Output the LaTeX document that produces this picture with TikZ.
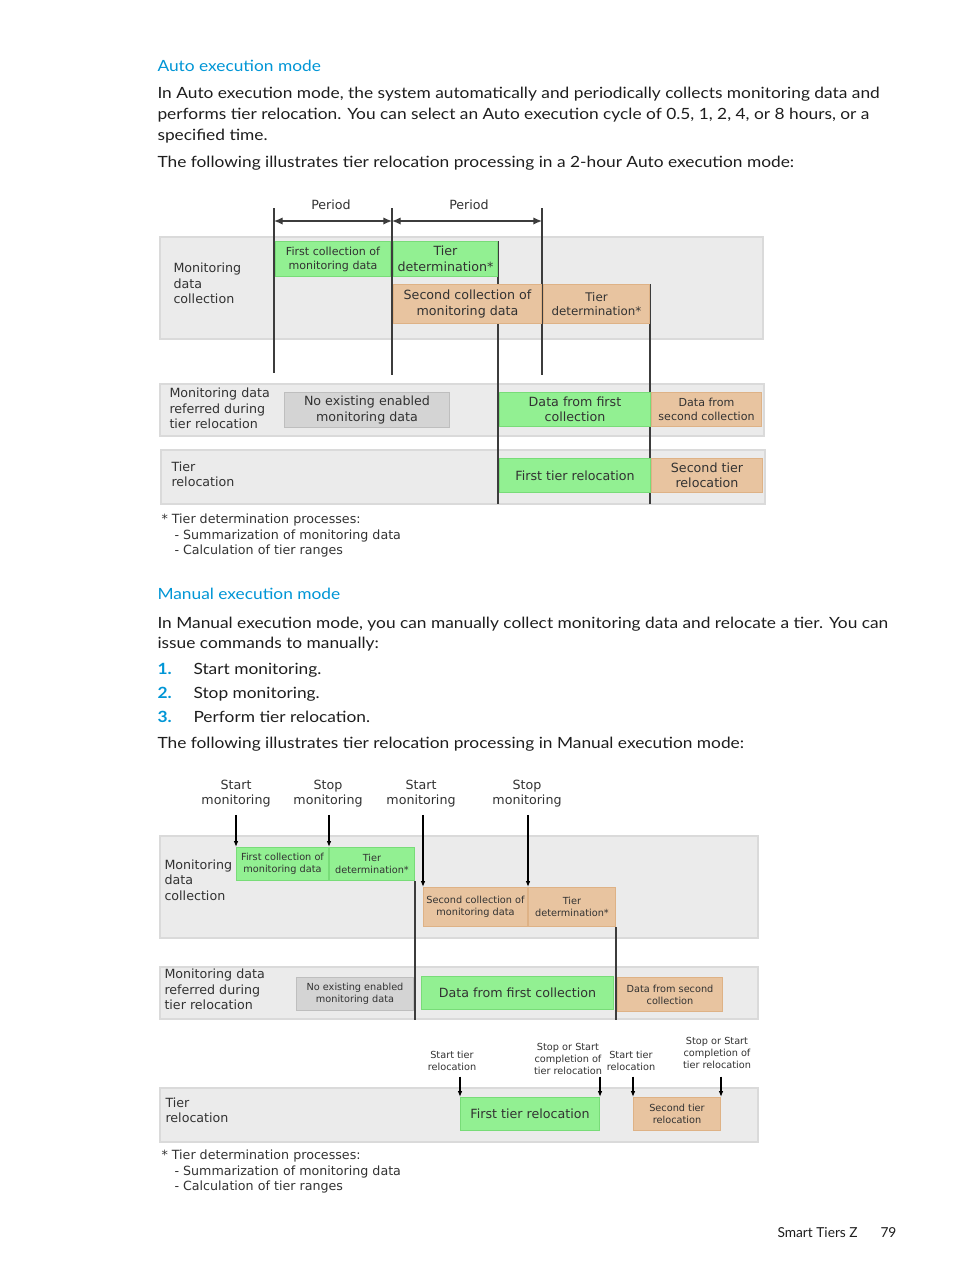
\documentclass[tikz,border=0pt]{standalone}
\usepackage{fontspec}
\setmainfont{Lato}
\newfontfamily\bodyfont{Lato}[FakeStretch=1.12]
\newfontfamily\diagfont{DejaVu Sans}
\usetikzlibrary{arrows.meta}

\definecolor{hpblue}{RGB}{0,150,214}
\definecolor{bodytxt}{RGB}{30,30,30}
\definecolor{diagtxt}{RGB}{50,50,50}
\definecolor{rowgray}{RGB}{235,235,235}
\definecolor{rowedge}{RGB}{218,218,218}
\definecolor{grn}{RGB}{146,240,146}
\definecolor{grnedge}{RGB}{120,220,120}
\definecolor{org}{RGB}{232,196,160}
\definecolor{orgedge}{RGB}{222,178,134}
\definecolor{gry}{RGB}{212,212,212}
\definecolor{gryedge}{RGB}{190,190,190}
\definecolor{tlinecol}{RGB}{60,60,60}

\tikzset{every picture/.style={line width=0.75pt}}
\tikzset{
  body/.style={font=\bodyfont\fontsize{11.6}{14}\selectfont, text=bodytxt, inner sep=0pt, anchor=base west},
  head/.style={body, text=hpblue},
  num/.style={body, text=hpblue, font=\bodyfont\bfseries\fontsize{11.6}{14}\selectfont},
  big/.style={font=\diagfont\fontsize{9.5}{11.6}\selectfont, text=diagtxt},
  mid/.style={font=\diagfont\fontsize{8.9}{10.8}\selectfont, text=diagtxt},
  small/.style={font=\diagfont\fontsize{8.3}{10.5}\selectfont, text=diagtxt},
  tiny/.style={font=\diagfont\fontsize{7.3}{9}\selectfont, text=diagtxt},
  lbl/.style={align=left, inner sep=0pt, anchor=west},
  wh/.style 2 args={minimum width=#1*0.75pt, minimum height=#2*0.75pt},
  gbox/.style={draw=grnedge, fill=grn, inner sep=0pt, align=center, anchor=north west},
  obox/.style={draw=orgedge, fill=org, inner sep=0pt, align=center, anchor=north west},
  xbox/.style={draw=gryedge, fill=gry, inner sep=0pt, align=center, anchor=north west},
  rowbg/.style={draw=rowedge, fill=rowgray, line width=1pt},
  tline/.style={draw=tlinecol, line width=1.1pt},
  period/.style={draw=tlinecol, line width=1pt, {Latex[length=6.5pt,width=5.5pt]}-{Latex[length=6.5pt,width=5.5pt]}},
  dnarrow/.style={draw=black, line width=0.9pt, -{Latex[length=4.5pt,width=3.5pt]}, shorten <=2pt},
}

\begin{document}
\begin{tikzpicture}[x=0.75pt,y=0.75pt,yscale=-1,xscale=1]
\useasboundingbox[fill=white] (0,0) rectangle (954,1271);

% Auto execution mode text
\draw (157,71.5) node[head] (hauto) {Auto execution mode};
\draw (157,98) node[body] (pa1) {In Auto execution mode, the system automatically and periodically collects monitoring data and};
\draw (157,119) node[body] (pa2) {performs tier relocation. You can select an Auto execution cycle of 0.5, 1, 2, 4, or 8 hours, or a};
\draw (157,140) node[body] (pa3) {specified time.};
\draw (157,167) node[body] (pa4) {The following illustrates tier relocation processing in a 2-hour Auto execution mode:};

%% Auto diagram
% rows
\draw[rowbg] (160,237) rectangle (763,339);
\draw[rowbg] (160,384) rectangle (764,436);
\draw[rowbg] (161,450) rectangle (765,504);

% row labels
\draw (173,283.5) node[lbl, big] (amon) {Monitoring\\data\\collection};
\draw (169,408.5) node[lbl, big] (aref) {Monitoring data\\referred during\\tier relocation};
\draw (171,474.5) node[lbl, big] (atier) {Tier\\relocation};

% time lines
\draw[tline] (274,208) -- (274,373);
\draw[tline] (392,208) -- (392,375);
\draw[tline] (542,208) -- (542,375);
\draw[tline] (498,241) -- (498,504);
\draw[tline] (650,284) -- (650,504);

% boxes
\node[gbox, wh={115}{35}, small] (fc1) at (275,241) {First collection of\\monitoring data};
\node[gbox, wh={104}{35}, big] (td1) at (393,241) {Tier\\determination*};
\node[obox, wh={148}{39}, big] (sc1) at (393,284) {Second collection of\\monitoring data};
\node[obox, wh={106}{39}, mid] (td2) at (543,284) {Tier\\determination*};
\node[xbox, wh={165}{35}, big] (nod1) at (284,392) {No existing enabled\\monitoring data};
\node[gbox, wh={151}{34}, big] (dfc1) at (499,392) {Data from first\\collection};
\node[obox, wh={110}{34}, small] (dsc1) at (651,392) {Data from\\second collection};
\node[gbox, wh={151}{34}, big] (ftr1) at (499,458) {First tier relocation};
\node[obox, wh={111}{34}, big] (str1) at (651,458) {Second tier\\relocation};

% periods
\coordinate (pa) at (274,221);
\coordinate (pb) at (392,221);
\coordinate (pc) at (542,221);
\draw[period] (pa) -- (pb);
\draw[period] (pb) -- (pc);
\draw (331,205) node[big] (per1) {Period};
\draw (469,205) node[big] (per2) {Period};

% footnote
\draw (161,520) node[lbl, big] (afn1) {* Tier determination processes:};
\draw (174,536) node[lbl, big] (afn2) {- Summarization of monitoring data};
\draw (174,551) node[lbl, big] (afn3) {- Calculation of tier ranges};

% Manual execution mode text
\draw (157,599) node[head] (hman) {Manual execution mode};
\draw (157,628) node[body] (pm1) {In Manual execution mode, you can manually collect monitoring data and relocate a tier. You can};
\draw (157,648) node[body] (pm2) {issue commands to manually:};
\draw (157,674) node[num] (n1) {1.};
\draw (193,674) node[body] (l1) {Start monitoring.};
\draw (157,698) node[num] (n2) {2.};
\draw (193,698) node[body] (l2) {Stop monitoring.};
\draw (157,722) node[num] (n3) {3.};
\draw (193,722) node[body] (l3) {Perform tier relocation.};
\draw (157,748) node[body] (pm3) {The following illustrates tier relocation processing in Manual execution mode:};

%% Manual diagram
% rows
\draw[rowbg] (160,836) rectangle (758,938);
\draw[rowbg] (160,967) rectangle (758,1019);
\draw[rowbg] (160,1088) rectangle (758,1142);

% row labels
\draw (164,880) node[lbl, big] (mmon) {Monitoring\\data\\collection};
\draw (164,989.5) node[lbl, big] (mref) {Monitoring data\\referred during\\tier relocation};
\draw (165,1110.5) node[lbl, big] (mtier) {Tier\\relocation};

% boxes
\node[gbox, wh={92}{33}, tiny] (fc2) at (236,847) {First collection of\\monitoring data};
\node[gbox, wh={85}{33}, tiny] (td3) at (329,847) {Tier\\determination*};
\node[obox, wh={104}{39}, tiny] (sc2) at (423,887) {Second collection of\\monitoring data};
\node[obox, wh={87}{39}, tiny] (td4) at (528,887) {Tier\\determination*};
\node[xbox, wh={117}{33}, tiny] (nod2) at (296,977) {No existing enabled\\monitoring data};
\node[gbox, wh={192}{33}, big] (dfc2) at (421,976) {Data from first collection};
\node[obox, wh={105}{34}, tiny] (dsc2) at (617,977) {Data from second\\collection};
\node[gbox, wh={139}{33}, big] (ftr2) at (460,1097) {First tier relocation};
\node[obox, wh={87}{33}, tiny] (str2) at (633,1097) {Second tier\\relocation};

% time lines
\draw[tline] (td3.south east) -- (td3.south east |- 0,1020);
\draw[tline] (td4.south east) -- (td4.south east |- 0,1020);

% commands
\draw (236,793.5) node[big, align=center] (stm1) {Start\\monitoring};
\draw (328,793.5) node[big, align=center] (spm1) {Stop\\monitoring};
\draw (421,793.5) node[big, align=center] (stm2) {Start\\monitoring};
\draw (527,793.5) node[big, align=center] (spm2) {Stop\\monitoring};
\draw[dnarrow] (fc2.north west |- stm1.south) -- (fc2.north west);
\draw[dnarrow] (td3.north west |- spm1.south) -- (td3.north west);
\draw[dnarrow] (sc2.north west |- stm2.south) -- (sc2.north west);
\draw[dnarrow] (td4.north west |- spm2.south) -- (td4.north west);

\draw (452,1061) node[tiny, align=center] (str1l) {Start tier\\relocation};
\draw (568,1059) node[tiny, align=center] (spr1l) {Stop or Start\\completion of\\tier relocation};
\draw (631,1061) node[tiny, align=center] (str2l) {Start tier\\relocation};
\draw (717,1052.5) node[tiny, align=center] (spr2l) {Stop or Start\\completion of\\tier relocation};
\draw[dnarrow] (ftr2.north west |- 0,1074) -- (ftr2.north west);
\draw[dnarrow] (ftr2.north east |- 0,1074) -- (ftr2.north east);
\draw[dnarrow] (str2.north west |- 0,1074) -- (str2.north west);
\draw[dnarrow] (str2.north east |- 0,1074) -- (str2.north east);

% footnote
\draw (161,1156) node[lbl, big] (mfn1) {* Tier determination processes:};
\draw (174,1172) node[lbl, big] (mfn2) {- Summarization of monitoring data};
\draw (174,1187) node[lbl, big] (mfn3) {- Calculation of tier ranges};

% footer
\draw (777,1237) node[body, font=\fontsize{10.3}{12}\selectfont] (foot) {Smart Tiers Z};
\draw (880,1237) node[body, font=\fontsize{10.3}{12}\selectfont] (page) {79};

\end{tikzpicture}
\end{document}
